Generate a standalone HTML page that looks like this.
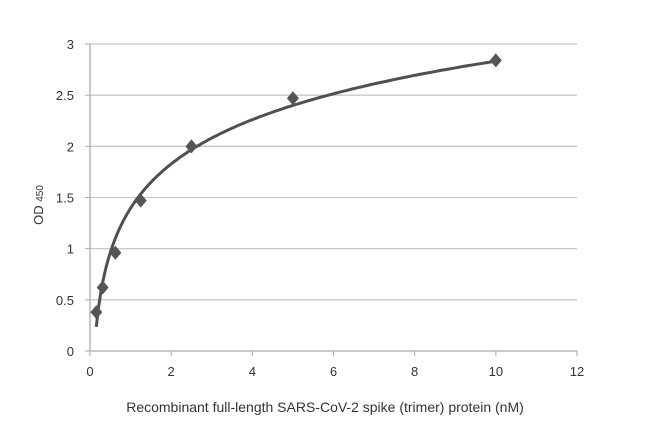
<!DOCTYPE html>
<html><head><meta charset="utf-8"><style>
body{margin:0;background:#fff;}
svg text{font-family:"Liberation Sans",sans-serif;fill:#333;}
</style></head><body>
<svg id="c" width="650" height="427"></svg>
<script>
const xVals=[0.156,0.3125,0.625,1.25,2.5,5,10];
const yVals=[0.38,0.62,0.96,1.47,2.0,2.47,2.84];
const xTicks=[0,2,4,6,8,10,12];
const yTicks=[0,0.5,1,1.5,2,2.5,3];
const yTickLabels=["0","0.5","1","1.5","2","2.5","3"];
const X0=90,X1=577,Y0=351,Y1=44;
const sx=v=>X0+(v-0)/(12-0)*(X1-X0);
const sy=v=>Y0-(v-0)/(3-0)*(Y0-Y1);
const svg=document.getElementById('c');
const NS='http://www.w3.org/2000/svg';
function mk(t,a,p){const e=document.createElementNS(NS,t);for(const k in a)e.setAttribute(k,a[k]);(p||svg).appendChild(e);return e;}
yTicks.forEach((v,i)=>{
  if(v>0){const g=mk('line',{x1:X0,x2:X1,y1:sy(v),y2:sy(v),stroke:'#c8c8c8','stroke-width':1.3});
  
  }
  const t=mk('text',{x:X0-16,y:sy(v)+5,'text-anchor':'end','font-size':13});
  t.textContent=yTickLabels[i];
  
  
  const tk=mk('line',{x1:X0-5,x2:X0,y1:sy(v),y2:sy(v),stroke:'#aaa'});
  
  
});
xTicks.forEach(v=>{
  const t=mk('text',{x:sx(v),y:Y0+25,'text-anchor':'middle','font-size':13});
  t.textContent=String(v);
  
  
  const tk=mk('line',{x1:sx(v),x2:sx(v),y1:Y0,y2:Y0+5,stroke:'#aaa'});
  
  
});
const ax=mk('line',{x1:X0,x2:X0,y1:Y1,y2:Y0,stroke:'#aaa','stroke-width':1.3});


const axx=mk('line',{x1:X0,x2:X1,y1:Y0,y2:Y0,stroke:'#aaa','stroke-width':1.3});


let n=xVals.length,sl=0,sy2=0,sll=0,sly=0;
xVals.forEach((x,i)=>{const l=Math.log(x);sl+=l;sy2+=yVals[i];sll+=l*l;sly+=l*yVals[i];});
const a=(n*sly-sl*sy2)/(n*sll-sl*sl),b=(sy2-a*sl)/n;
let d='';const xs=Math.min(...xVals),xe=Math.max(...xVals);
for(let k=0;k<=200;k++){const x=xs*Math.pow(xe/xs,k/200);d+=(k?'L':'M')+sx(x).toFixed(1)+','+sy(a*Math.log(x)+b).toFixed(1);}
const tr=mk('path',{d:d,fill:'none',stroke:'#505050','stroke-width':3});


xVals.forEach((x,i)=>{
  const cx=sx(x),cy=sy(yVals[i]);
  const p=mk('polygon',{points:`${cx},${cy-7} ${cx+6},${cy} ${cx},${cy+7} ${cx-6},${cy}`,fill:'#555'});
  
  
});
</script>
<svg style="position:absolute;left:0;top:0" width="650" height="427">
<text x="0" y="0" transform="translate(43,205) rotate(-90)" text-anchor="middle" font-size="13">OD <tspan font-size="10">450</tspan></text>
<text x="325" y="412" text-anchor="middle" font-size="14" fill="#222">Recombinant full-length SARS-CoV-2 spike (trimer) protein (nM)</text>
</svg>
</body></html>
